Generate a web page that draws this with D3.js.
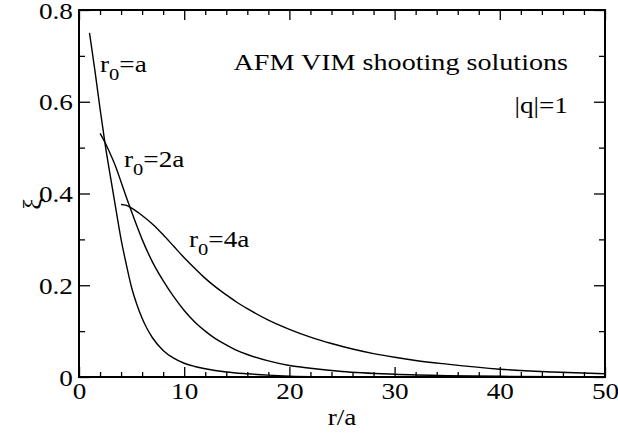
<!DOCTYPE html>
<html>
<head>
<meta charset="utf-8">
<script src="https://cdn.jsdelivr.net/npm/d3@7"></script>
<style>
  body { margin: 0; background: #fff; }
</style>
</head>
<body>
<div id="chart"></div>
<script>
// Shooting solutions xi(r) for three starting radii r0
var r0a = [1, 1.5, 2, 2.5, 3, 3.5, 4, 4.5, 5, 5.5, 6, 6.5, 7, 8, 9, 10, 11, 12, 14, 16, 18, 20, 23, 25];
var xi0a = [0.75, 0.67, 0.585, 0.505, 0.435, 0.367, 0.30, 0.245, 0.195, 0.158, 0.128, 0.104, 0.085, 0.058, 0.041, 0.03, 0.023, 0.018, 0.011, 0.007, 0.004, 0.002, 0.0005, 0];

var r2a = [2, 2.5, 3, 3.5, 4, 4.5, 5, 6, 7, 8, 9, 10, 11, 12, 13, 14, 15, 16, 18, 20, 22, 25, 30, 35, 40, 50];
var xi2a = [0.531, 0.51, 0.485, 0.458, 0.425, 0.392, 0.36, 0.30, 0.25, 0.21, 0.175, 0.145, 0.12, 0.10, 0.083, 0.07, 0.058, 0.049, 0.035, 0.025, 0.019, 0.012, 0.006, 0.003, 0.0015, 0.0005];

var r4a = [4, 4.5, 5, 6, 7, 8, 9, 10, 11, 12, 13, 14, 15, 16, 18, 20, 22, 24, 26, 28, 30, 32, 35, 40, 45, 50];
var xi4a = [0.376, 0.374, 0.368, 0.352, 0.333, 0.31, 0.285, 0.26, 0.237, 0.215, 0.196, 0.179, 0.163, 0.149, 0.124, 0.104, 0.087, 0.073, 0.061, 0.051, 0.043, 0.036, 0.028, 0.017, 0.011, 0.007];

var xTicks = [0, 10, 20, 30, 40, 50];
var yTicks = [0, 0.2, 0.4, 0.6, 0.8];
var yTickLabels = ['0', '0.2', '0.4', '0.6', '0.8'];

var width = 618, height = 435;
var margin = {top: 10, right: 13, bottom: 58, left: 79};
var serif = '"Liberation Serif", "Times New Roman", Times, serif';
var fontSize = 22.5;
var stretch = 1.21;   // the reference text is drawn a little wide

var svg = d3.select('#chart').append('svg')
    .attr('width', width)
    .attr('height', height)
    .style('font-family', serif);

var x = d3.scaleLinear().domain([0, 50]).range([margin.left, width - margin.right]);
var y = d3.scaleLinear().domain([0, 0.8]).range([height - margin.bottom, margin.top]);

var xMinor = d3.range(0, 51, 2).filter(function(v) { return v % 10 !== 0; });
var yMinor = [0.1, 0.3, 0.5, 0.7];

function styleAxis(g) {
  g.attr('font-family', null);
  g.select('.domain').remove();
  g.selectAll('line').attr('stroke', '#000').attr('stroke-width', 1.3);
  g.selectAll('text')
      .style('font-family', serif)
      .attr('fill', '#000')
      .attr('font-size', fontSize)
      .attr('transform', 'scale(' + stretch + ',1)');
}

// bottom axis, ticks pointing inward
svg.append('g')
    .attr('transform', 'translate(0,' + y(0) + ')')
    .call(d3.axisBottom(x).tickValues(xTicks).tickSize(-10).tickPadding(6).tickFormat(d3.format('d')))
    .call(styleAxis)
    .call(function(g) { g.selectAll('text').attr('dy', '0.71em'); });
svg.append('g')
    .attr('transform', 'translate(0,' + y(0) + ')')
    .call(d3.axisBottom(x).tickValues(xMinor).tickSize(-5).tickFormat(''))
    .call(styleAxis);

// top mirror
svg.append('g')
    .attr('transform', 'translate(0,' + y(0.8) + ')')
    .call(d3.axisTop(x).tickValues(xTicks).tickSize(-10).tickFormat(''))
    .call(styleAxis);
svg.append('g')
    .attr('transform', 'translate(0,' + y(0.8) + ')')
    .call(d3.axisTop(x).tickValues(xMinor).tickSize(-5).tickFormat(''))
    .call(styleAxis);

// left axis
svg.append('g')
    .attr('transform', 'translate(' + x(0) + ',0)')
    .call(d3.axisLeft(y).tickValues(yTicks).tickSize(-11).tickPadding(5)
      .tickFormat(function(d, i) { return yTickLabels[i]; }))
    .call(styleAxis)
    .call(function(g) { g.selectAll('text').attr('dy', '0.36em'); });
svg.append('g')
    .attr('transform', 'translate(' + x(0) + ',0)')
    .call(d3.axisLeft(y).tickValues(yMinor).tickSize(-6).tickFormat(''))
    .call(styleAxis);

// right mirror
svg.append('g')
    .attr('transform', 'translate(' + x(50) + ',0)')
    .call(d3.axisRight(y).tickValues(yTicks).tickSize(-11).tickFormat(''))
    .call(styleAxis);
svg.append('g')
    .attr('transform', 'translate(' + x(50) + ',0)')
    .call(d3.axisRight(y).tickValues(yMinor).tickSize(-6).tickFormat(''))
    .call(styleAxis);

// frame
svg.append('rect')
    .attr('x', x(0)).attr('y', y(0.8))
    .attr('width', x(50) - x(0)).attr('height', y(0) - y(0.8))
    .attr('fill', 'none').attr('stroke', '#000').attr('stroke-width', 2);

// curves
var line = d3.line()
    .x(function(d) { return x(d[0]); })
    .y(function(d) { return y(d[1]); })
    .curve(d3.curveMonotoneX);

[[r0a, xi0a], [r2a, xi2a], [r4a, xi4a]].forEach(function(s) {
  svg.append('path')
      .datum(d3.zip(s[0], s[1]))
      .attr('fill', 'none')
      .attr('stroke', '#000')
      .attr('stroke-width', 1.4)
      .attr('d', line);
});

function addText(px, py, str, anchor, sx) {
  return svg.append('text')
      .attr('transform', 'translate(' + px + ',' + py + ') scale(' + (sx || stretch) + ',1)')
      .attr('text-anchor', anchor || 'start')
      .attr('font-size', fontSize)
      .attr('fill', '#000')
      .style('font-family', serif)
      .text(str);
}

// curve labels
function r0Label(px, py, rest) {
  var t = addText(px, py, null);
  t.append('tspan').text('r');
  t.append('tspan').attr('font-size', 17).attr('dy', 8).text('0');
  t.append('tspan').attr('dy', -8).text('=' + rest);
}
r0Label(100, 72, 'a');
r0Label(124, 167, '2a');
r0Label(189, 247, '4a');

addText(568, 70, 'AFM VIM shooting solutions', 'end', 1.25);
addText(568, 113, '|q|=1', 'end');

// axis titles
addText((x(0) + x(50)) / 2, 425, 'r/a', 'middle');
svg.append('text')
    .attr('transform', 'translate(41,204) rotate(-90)')
    .attr('text-anchor', 'middle')
    .attr('font-size', 26)
    .attr('fill', '#000')
    .style('font-family', serif)
    .text('ξ');
</script>
</body>
</html>
